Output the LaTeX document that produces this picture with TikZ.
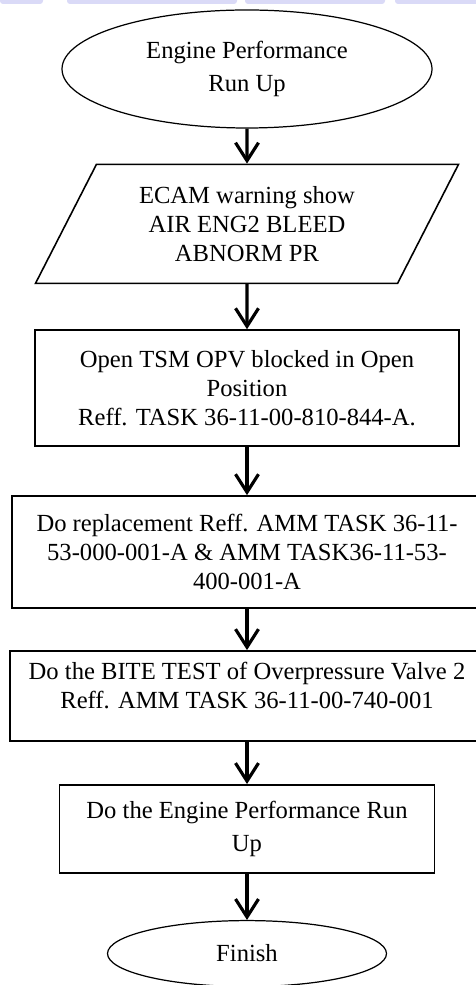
\documentclass[tikz,border=0pt]{standalone}
\usepackage{fontspec}
\setmainfont{Liberation Serif}
\usetikzlibrary{arrows.meta}
\usetikzlibrary{shapes.geometric}
\usetikzlibrary{positioning}

\definecolor{wmark}{RGB}{218,218,247}

\begin{document}
\begin{tikzpicture}[font=\fontsize{14}{16.5}\selectfont,>={Straight Barb[length=3.6mm,width=4.6mm]},
                      terminal/.style={ellipse,draw,line width=0.7pt,align=center,inner sep=0pt},
                      inout/.style={trapezium,trapezium left angle=55,trapezium right angle=125,
                                    trapezium stretches body=true,draw,line width=0.9pt,align=center,
                                    minimum width=8.46cm,minimum height=2.38cm},
                      proc/.style={draw,line width=1.1pt,align=center,inner sep=2pt},
                      flow/.style={->,line width=1.8pt},
                      ]
    \useasboundingbox (0,0) rectangle (9.5,-19.7);
    % watermark band at the top
    \fill[wmark,rounded corners=0.6mm] (0,0.1) rectangle (0.86,-0.08);
    \fill[wmark,rounded corners=0.6mm] (1.34,0.1) rectangle (4.74,-0.08);
    \fill[wmark,rounded corners=0.6mm] (4.9,0.1) rectangle (7.7,-0.08);
    \fill[wmark,rounded corners=0.6mm] (7.9,0.1) rectangle (9.6,-0.08);

    \node[terminal,minimum width=7.4cm,minimum height=2.36cm] (start) at (4.94,-1.38) {Engine Performance\\[2pt]Run Up};
    \node[inout,below=0.7cm of start] (ecam) {ECAM warning show\\AIR ENG2 BLEED\\ABNORM PR};
    \node[proc,below=0.9cm of ecam,minimum width=8.48cm,minimum height=2.32cm] (opv) {Open TSM OPV blocked in Open\\Position\\Reff. TASK 36-11-00-810-844-A.};
    \node[proc,below=0.96cm of opv,minimum width=9.4cm,minimum height=2.24cm] (replace) {Do replacement Reff. AMM TASK 36-11-\\53-000-001-A \& AMM TASK36-11-53-\\400-001-A};
    \node[proc,below=0.82cm of replace,minimum width=9.48cm,minimum height=1.8cm] (bite) {Do the BITE TEST of Overpressure Valve 2\\Reff. AMM TASK 36-11-00-740-001\\[-4pt]};
    \node[proc,below=0.84cm of bite,minimum width=7.5cm,minimum height=1.76cm] (runup) {Do the Engine Performance Run\\[2pt]Up};
    \node[terminal,below=0.92cm of runup,minimum width=5.58cm,minimum height=1.32cm] (finish) {Finish};

    \draw[flow] (start) -- (ecam);
    \draw[flow] (ecam) -- (opv);
    \draw[flow] (opv) -- (replace);
    \draw[flow] (replace) -- (bite);
    \draw[flow] (bite) -- (runup);
    \draw[flow] (runup) -- (finish);
  \end{tikzpicture}
\end{document}
